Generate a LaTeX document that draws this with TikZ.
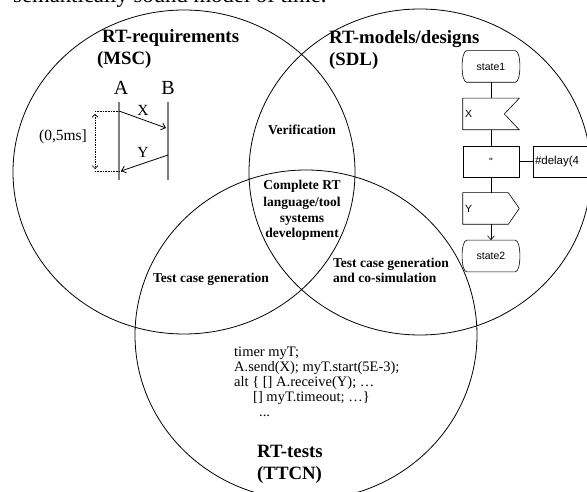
\documentclass[tikz,border=0pt]{standalone}
\usepackage{fontspec}
\setmainfont{Liberation Serif}
\newfontfamily\sdlfont{Liberation Sans}
\usetikzlibrary{arrows.meta}

\begin{document}
\begin{tikzpicture}[%
        x = 1pt, y = -1pt,
        > = {Straight Barb[length = 4pt, width = 7pt]},
        venn/.style = {line width = 0.8pt},
        head_text/.style = {font = \fontsize{18.8}{22}\selectfont\bfseries,
            inner sep = 0pt, align = left, anchor = base west},
        area_text/.style = {font = \fontsize{13.5}{16}\selectfont\bfseries,
            inner sep = 0pt},
        msc_big/.style = {font = \fontsize{20}{24}\selectfont, inner sep = 0pt},
        msc_small/.style = {font = \fontsize{15.5}{18}\selectfont, inner sep = 0pt},
        msc_line/.style = {draw = gray, line width = 1.5pt},
        msc_msg/.style = {->, line width = 0.8pt},
        sdl_box/.style = {minimum width = 56pt, minimum height = 31pt,
            inner sep = 2pt, font = \sdlfont\fontsize{10.5}{12}\selectfont},
        sdl_line/.style = {line width = 0.6pt},
        code_text/.style = {font = \fontsize{14.5}{15}\selectfont,
            inner sep = 0pt, align = left, anchor = base west}
    ]

        \useasboundingbox (0, 0) rectangle (587, 492);
        \clip (0, 0) rectangle (587, 492);

        % The caption line above, cut off by the page edge.
        \node (caption) [anchor = base west, inner sep = 0pt,
            font = \fontsize{22.7}{27}\selectfont] at (13, 3)
            {semantically sound model of time.};

        % The three circles.
        \draw[venn] (184, 172) ellipse [x radius = 171pt, y radius = 162pt];
        \draw[venn] (420, 172) ellipse [x radius = 171pt, y radius = 163pt];
        \draw[venn] (306, 335) ellipse [x radius = 171pt, y radius = 165pt];

        % Multi-line nodes sit on the base line of their last line.
        \node (msc_head) [head_text] at (102, 65)
            {RT-requirements\\\hspace*{-5pt}(MSC)};
        \node (sdl_head) [head_text] at (329, 66) {RT-models/designs\\(SDL)};
        \node (ttcn_head) [head_text] at (257, 479) {RT-tests\\(TTCN)};

        \node (verif) [area_text, anchor = base] at (302, 135) {Verification};
        \node (complete) [area_text, align = center, anchor = base] at (302, 238)
            {Complete RT\\language/tool\\systems\\development};
        \node (tcg_left) [area_text, anchor = base west] at (153, 282)
            {Test case generation};
        \node (tcg_right) [area_text, align = left, anchor = base west] at (333, 283)
            {Test case generation\\and co-simulation};

        \node (ttcn_code) [code_text] at (234, 416)
            {timer myT;\\A.send(X); myT.start(5E-3);\\alt \{ [] A.receive(Y); …\\%
            \hspace*{19pt}[] myT.timeout; …\}\\\hspace*{25pt}...};

        % MSC part
        \begin{scope}
            \node (lbl_a) [msc_big, anchor = base] at (121, 95) {A};
            \node (lbl_b) [msc_big, anchor = base] at (168, 95) {B};
            \coordinate (a_top) at (119, 102);
            \coordinate (a_bot) at (119, 180);
            \coordinate (b_top) at (168, 102);
            \coordinate (b_bot) at (168, 180);
            \draw[msc_line] (a_top) to (a_bot);
            \draw[msc_line] (b_top) to (b_bot);

            \coordinate (x_from) at (119, 111);
            \coordinate (x_to) at (166, 128);
            \coordinate (y_from) at (168, 155);
            \coordinate (y_to) at (121, 171);
            \draw[msc_msg] (x_from) to (x_to);
            \draw[msc_msg] (y_from) to (y_to);
            \node (lbl_x) [msc_small] at (143, 110) {X};
            \node (lbl_y) [msc_small] at (143, 152) {Y};

            \coordinate (dur_left_top) at (95, 111);
            \coordinate (dur_left_bot) at (95, 171);
            \coordinate (dur_top) at (95, 114);
            \coordinate (dur_bot) at (95, 169);
            \draw[densely dotted, line width = 0.6pt] (dur_left_top) to (x_from);
            \draw[densely dotted, line width = 0.6pt] (dur_left_bot) to (y_to);
            \draw[densely dotted, line width = 0.7pt,
                {Straight Barb[length = 3pt, width = 6pt]}-{Straight Barb[length = 3pt, width = 6pt]}]
                (dur_top) to (dur_bot);
            \node (lbl_dur) [msc_small] at (63, 137) {(0,5ms]};
        \end{scope}

        % SDL part
        \begin{scope}[sdl_line]
            \node (st_one) [sdl_box] at (491, 66.5) {state1};
            \draw ([xshift = 4pt]st_one.north west) -- ([xshift = -4pt]st_one.north east)
                to[out = 0, in = 0, looseness = 0.5] ([xshift = -4pt]st_one.south east)
                -- ([xshift = 4pt]st_one.south west)
                to[out = 180, in = 180, looseness = 0.5] ([xshift = 4pt]st_one.north west);

            \node (in_x) [sdl_box, text width = 52pt, align = left] at (491, 114) {X};
            \draw (in_x.north west) -- (in_x.north east) -- ([xshift = -15pt]in_x.east)
                -- (in_x.south east) -- (in_x.south west) -- cycle;

            \node (task) [sdl_box, draw] at (491, 161.5) {"};
            \node (comment) [sdl_box, draw, minimum width = 54pt, text width = 50pt,
                align = left, font = \sdlfont\fontsize{11.5}{13}\selectfont]
                at (560, 161.5) {\#delay(4};

            \node (out_y) [sdl_box, text width = 52pt, align = left] at (491, 208.5) {Y};
            \draw (out_y.north west) -- ([xshift = -11pt]out_y.north east) -- (out_y.east)
                -- ([xshift = -11pt]out_y.south east) -- (out_y.south west) -- cycle;

            \node (st_two) [sdl_box] at (491, 256) {state2};
            \draw ([xshift = 4pt]st_two.north west) -- ([xshift = -4pt]st_two.north east)
                to[out = 0, in = 0, looseness = 0.5] ([xshift = -4pt]st_two.south east)
                -- ([xshift = 4pt]st_two.south west)
                to[out = 180, in = 180, looseness = 0.5] ([xshift = 4pt]st_two.north west);

            \draw (st_one) to (in_x);
            \draw (in_x) to (task);
            \draw (task) to (comment);
            \draw (task) to (out_y);
            \draw[->] (out_y) to (st_two);
        \end{scope}
    \end{tikzpicture}
\end{document}
